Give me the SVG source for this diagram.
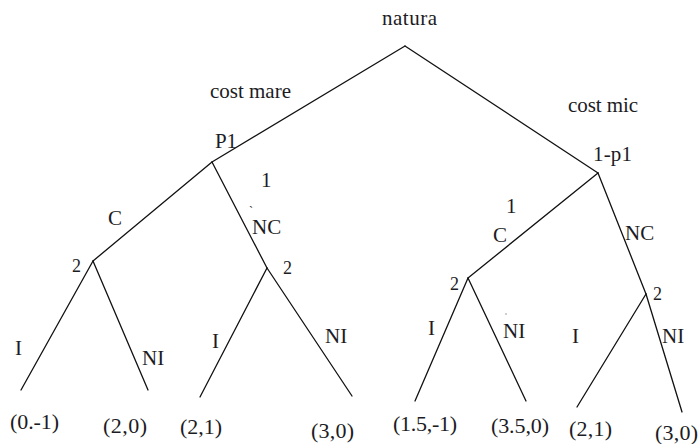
<svg xmlns="http://www.w3.org/2000/svg" width="700" height="444" viewBox="0 0 700 444">
<style>
text{font-family:"Liberation Serif","Times New Roman",serif;fill:#1c1c24}
.lb{font-size:21px}
.pl{font-size:18px}
.lf{font-size:22px}
.e{stroke:#111;stroke-width:1.3;fill:none;stroke-linecap:round}
</style>
<rect width="700" height="444" fill="#fff"/>
<g id="connectors">
<line class="e" x1="405" y1="46" x2="212" y2="162"/>
<line class="e" x1="405" y1="46" x2="598" y2="173"/>
<line class="e" x1="212" y1="162" x2="93" y2="261"/>
<line class="e" x1="212" y1="162" x2="267" y2="268"/>
<line class="e" x1="598" y1="173" x2="468" y2="278"/>
<line class="e" x1="598" y1="173" x2="646" y2="294"/>
<line class="e" x1="93" y1="261" x2="21" y2="390"/>
<line class="e" x1="93" y1="261" x2="148" y2="390"/>
<line class="e" x1="267" y1="268" x2="200" y2="397"/>
<line class="e" x1="267" y1="268" x2="352" y2="396"/>
<line class="e" x1="468" y1="278" x2="415" y2="401"/>
<line class="e" x1="468" y1="278" x2="526" y2="401"/>
<line class="e" x1="646" y1="294" x2="577" y2="407"/>
<line class="e" x1="646" y1="294" x2="682" y2="412"/>
<text class="lb" x="210" y="98" textLength="81">cost mare</text>
<text class="lb" x="568" y="112" textLength="70">cost mic</text>
<text class="lb" x="108" y="225">C</text>
<text class="lb" x="252" y="234">NC</text>
<text style="font-size:12px" x="249" y="215">`</text>
<text class="lb" x="493" y="242">C</text>
<text class="lb" x="625" y="240">NC</text>
<text class="lb" x="15" y="355">I</text>
<text class="lb" x="142" y="365">NI</text>
<text class="lb" x="212" y="348">I</text>
<text class="lb" x="325" y="343">NI</text>
<text class="lb" x="428" y="335">I</text>
<text class="lb" x="503" y="338">NI</text>
<circle cx="506" cy="314" r="0.7" fill="#777"/>
<text class="lb" x="572" y="343">I</text>
<text class="lb" x="662" y="343">NI</text>
</g>
<g id="natura"><text class="lb" x="382" y="25" textLength="55">natura</text></g>
<g id="p1"><text class="lb" x="215" y="148" textLength="22">P1</text><text class="lb" x="261" y="187">1</text></g>
<g id="one-minus-p1"><text class="lb" x="593" y="161" textLength="39">1-p1</text><text class="lb" x="506" y="213">1</text></g>
<g id="n2-c-left"><text class="pl" x="72" y="272">2</text></g>
<g id="n2-nc-left"><text class="pl" x="283" y="274">2</text></g>
<g id="n2-c-right"><text class="pl" x="450" y="290">2</text></g>
<g id="n2-nc-right"><text class="pl" x="653" y="300">2</text></g>
<g id="leaf1"><text class="lf" x="10" y="428.5" textLength="49">(0.-1)</text></g>
<g id="leaf2"><text class="lf" x="103" y="432.5" textLength="44">(2,0)</text></g>
<g id="leaf3"><text class="lf" x="180" y="433.5" textLength="42">(2,1)</text></g>
<g id="leaf4"><text class="lf" x="311" y="437.5" textLength="43">(3,0)</text></g>
<g id="leaf5"><text class="lf" x="393" y="430.5" textLength="64">(1.5,-1)</text></g>
<g id="leaf6"><text class="lf" x="491" y="432.5" textLength="58">(3.5,0)</text></g>
<g id="leaf7"><text class="lf" x="569" y="435.5" textLength="43">(2,1)</text></g>
<g id="leaf8"><text class="lf" x="655" y="439.5" textLength="43">(3,0)</text></g>
</svg>
